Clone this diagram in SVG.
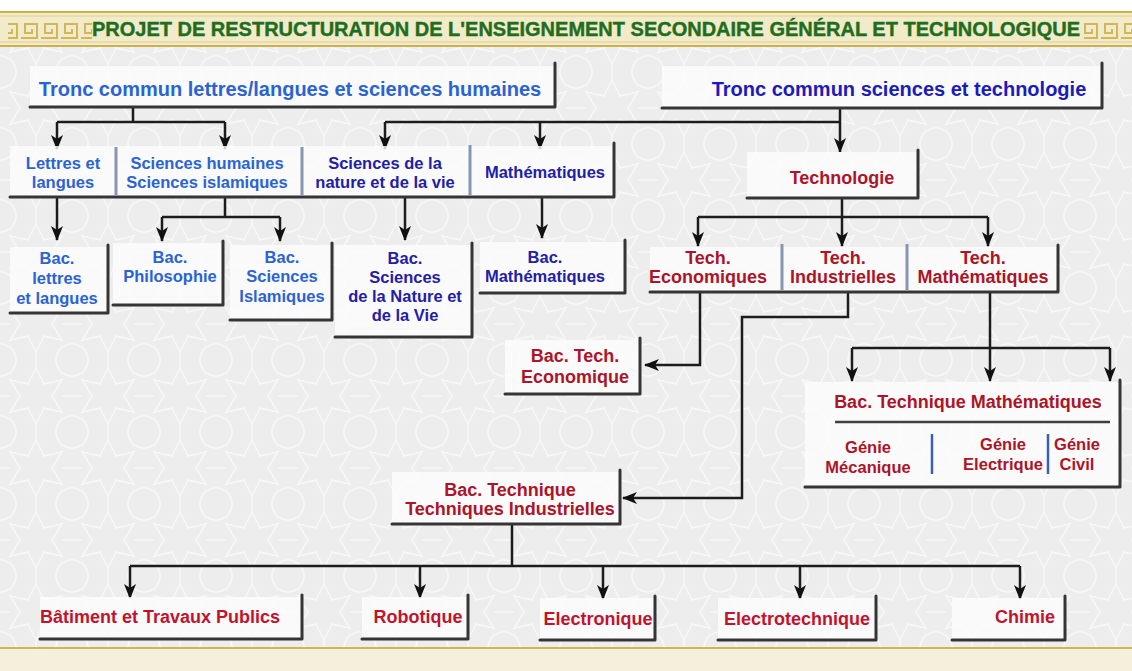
<svg xmlns="http://www.w3.org/2000/svg" width="1132" height="671" viewBox="0 0 1132 671">
<defs>
<style>
.t{font-family:"Liberation Sans",Arial,sans-serif;font-weight:bold;text-anchor:middle}
.big{font-size:20px}
.mid{font-size:18px}
.sm{font-size:16.5px}
.lb{fill:#2a63d4}
.nv{fill:#1f20a8}
.rd{fill:#ad1428}
.rb{fill:#c4122c}
.box{fill:#fcfcfc;fill-opacity:0.8}
.bd{fill:none;stroke:#353535;stroke-width:3;stroke-linejoin:round;stroke-linecap:round}
.sep{stroke:#8797b3;stroke-width:3}
.sepb{stroke:#3d5fb0;stroke-width:2.5}
.c{fill:none;stroke:#1c1c1c;stroke-width:2.5}
.a{fill:none;stroke:#1c1c1c;stroke-width:2.5;marker-end:url(#arr)}
</style>
<marker id="arr" markerUnits="userSpaceOnUse" markerWidth="16" markerHeight="14" refX="14" refY="7" orient="auto">
<path d="M0,1 L15,7 L0,13 L4,7 Z" fill="#111"/>
</marker>
<pattern id="bgp" width="72" height="72" patternUnits="userSpaceOnUse">
<rect width="72" height="72" fill="#ededed"/>
<g fill="none" stroke="#f9f9f9" stroke-width="1.6" opacity="0.85">
<polygon points="36,8 44,24 62,20 52,36 62,52 44,48 36,64 28,48 10,52 20,36 10,20 28,24"/>
<circle cx="0" cy="0" r="16"/><circle cx="72" cy="0" r="16"/><circle cx="0" cy="72" r="16"/><circle cx="72" cy="72" r="16"/>
<path d="M0,36 L10,36 M62,36 L72,36 M36,0 L36,8 M36,64 L36,72"/>
</g>
</pattern>
<pattern id="key" width="20" height="20" patternUnits="userSpaceOnUse">
<path d="M1,18 H17 V4 H5 V13 H12 V9" fill="none" stroke="#d2b65c" stroke-width="2"/>
</pattern>
</defs>

<rect width="1132" height="671" fill="#ffffff"/>
<rect x="0" y="47" width="1132" height="601" fill="url(#bgp)"/>

<g id="header">
<rect x="0" y="11" width="1132" height="36" fill="#f2ebc9"/>
<line x1="0" y1="12" x2="1132" y2="12" stroke="#cdb04e" stroke-width="2"/>
<line x1="0" y1="16" x2="1132" y2="16" stroke="#e2cf8a" stroke-width="1"/>
<line x1="0" y1="42" x2="1132" y2="42" stroke="#e2cf8a" stroke-width="1"/>
<line x1="0" y1="46" x2="1132" y2="46" stroke="#cdb04e" stroke-width="2"/>
<rect x="8" y="19" width="84" height="21" fill="url(#key)"/>
<rect x="1084" y="19" width="48" height="21" fill="url(#key)"/>
<text x="92" y="36" font-family="'Liberation Sans',Arial,sans-serif" font-weight="bold" font-size="19.5" fill="#1f6e20" stroke="#1f6e20" stroke-width="0.4" textLength="988" lengthAdjust="spacingAndGlyphs">PROJET DE RESTRUCTURATION DE L'ENSEIGNEMENT SECONDAIRE GÉNÉRAL ET TECHNOLOGIQUE</text>
</g>

<g id="footer">
<rect x="0" y="648" width="1132" height="23" fill="#f4f0dc"/>
<line x1="0" y1="648" x2="1132" y2="648" stroke="#d1b552" stroke-width="2"/>
</g>

<g id="connectors">
<path class="c" d="M133,107 V122 M57,122 H225"/>
<path class="a" d="M57,122 V149"/>
<path class="a" d="M225,122 V149"/>
<path class="c" d="M385,122 H840"/>
<path class="a" d="M385,122 V149"/>
<path class="a" d="M540,122 V149"/>
<path class="a" d="M840,108 V152"/>
<path class="a" d="M57,197 V240"/>
<path class="c" d="M225,197 V217 M162,217 H280"/>
<path class="a" d="M162,217 V241"/>
<path class="a" d="M280,217 V241"/>
<path class="a" d="M405,197 V240"/>
<path class="a" d="M542,197 V238"/>
<path class="c" d="M842,198 V217 M698,217 H988"/>
<path class="a" d="M698,217 V246"/>
<path class="a" d="M842,217 V246"/>
<path class="a" d="M988,217 V246"/>
<path class="a" d="M700,292 V365 H645"/>
<path class="a" d="M848,292 V317 H742 V498 H623"/>
<path class="c" d="M852,348 H1110"/>
<path class="a" d="M990,292 V381"/>
<path class="a" d="M852,348 V381"/>
<path class="a" d="M1110,348 V381"/>
<path class="c" d="M512,524 V566 M130,566 H1020"/>
<path class="a" d="M130,566 V598"/>
<path class="a" d="M420,566 V598"/>
<path class="a" d="M603,566 V599"/>
<path class="a" d="M800,566 V599"/>
<path class="a" d="M1020,566 V599"/>
</g>

<g id="n-tronc-lettres">
<rect class="box" x="30" y="66" width="525" height="41"/>
<path class="bd" d="M30,107 H555 V63"/>
<text class="t big lb" x="290" y="96">Tronc commun lettres/langues et sciences humaines</text>
</g>

<g id="n-tronc-sciences">
<rect class="box" x="662" y="66" width="440" height="42"/>
<path class="bd" d="M662,108 H1102 V63"/>
<text class="t big nv" x="899" y="96" style="fill:#1b1bbd">Tronc commun sciences et technologie</text>
</g>

<g id="n-tronc-options">
<rect class="box" x="10" y="146" width="604" height="51"/>
<path class="bd" d="M10,197 H614 V143"/>
<line class="sep" x1="116" y1="147" x2="116" y2="196"/>
<line class="sep" x1="302" y1="147" x2="302" y2="196"/>
<line class="sep" x1="470" y1="145" x2="470" y2="196"/>
</g>
<g id="n-lettres-langues">
<text class="t sm lb" x="63" y="169">Lettres et</text>
<text class="t sm lb" x="63" y="188">langues</text>
</g>
<g id="n-sciences-humaines">
<text class="t sm lb" x="207" y="169">Sciences humaines</text>
<text class="t sm lb" x="207" y="188">Sciences islamiques</text>
</g>
<g id="n-snv">
<text class="t sm nv" x="385" y="169">Sciences de la</text>
<text class="t sm nv" x="385" y="188">nature et de la vie</text>
</g>
<g id="n-math">
<text class="t sm nv" x="545" y="178">Mathématiques</text>
</g>

<g id="n-bac-lettres">
<rect class="box" x="10" y="247" width="98" height="66"/>
<path class="bd" d="M10,313 H108 V245"/>
<text class="t sm lb" x="57" y="264">Bac.</text>
<text class="t sm lb" x="57" y="284">lettres</text>
<text class="t sm lb" x="57" y="304">et langues</text>
</g>

<g id="n-bac-philo">
<rect class="box" x="113" y="243" width="110" height="62"/>
<path class="bd" d="M113,305 H223 V241"/>
<text class="t sm lb" x="170" y="263">Bac.</text>
<text class="t sm lb" x="170" y="282">Philosophie</text>
</g>

<g id="n-bac-islam">
<rect class="box" x="230" y="245" width="102" height="75"/>
<path class="bd" d="M230,320 H332 V243"/>
<text class="t sm lb" x="282" y="263">Bac.</text>
<text class="t sm lb" x="282" y="282">Sciences</text>
<text class="t sm lb" x="282" y="302">Islamiques</text>
</g>

<g id="n-bac-snv">
<rect class="box" x="335" y="245" width="137" height="92"/>
<path class="bd" d="M335,337 H472 V243"/>
<text class="t sm nv" x="405" y="264">Bac.</text>
<text class="t sm nv" x="405" y="283">Sciences</text>
<text class="t sm nv" x="405" y="302">de la Nature et</text>
<text class="t sm nv" x="405" y="321">de la Vie</text>
</g>

<g id="n-bac-math">
<rect class="box" x="480" y="242" width="145" height="51"/>
<path class="bd" d="M480,293 H625 V240"/>
<text class="t sm nv" x="545" y="263">Bac.</text>
<text class="t sm nv" x="545" y="282">Mathématiques</text>
</g>

<g id="n-technologie">
<rect class="box" x="747" y="152" width="171" height="46"/>
<path class="bd" d="M747,198 H918 V150"/>
<text class="t mid rd" x="842" y="184">Technologie</text>
</g>

<g id="n-tech-row">
<rect class="box" x="650" y="247" width="408" height="45"/>
<path class="bd" d="M650,292 H1058 V245"/>
<line class="sep" x1="782" y1="244" x2="782" y2="290"/>
<line class="sep" x1="907" y1="244" x2="907" y2="290"/>
</g>
<g id="n-tech-eco">
<text class="t mid rd" x="708" y="264">Tech.</text>
<text class="t mid rd" x="708" y="283">Economiques</text>
</g>
<g id="n-tech-ind">
<text class="t mid rd" x="843" y="264">Tech.</text>
<text class="t mid rd" x="843" y="283">Industrielles</text>
</g>
<g id="n-tech-math">
<text class="t mid rd" x="983" y="264">Tech.</text>
<text class="t mid rd" x="983" y="283">Mathématiques</text>
</g>

<g id="n-bac-tech-eco">
<rect class="box" x="505" y="340" width="135" height="54"/>
<path class="bd" d="M505,394 H640 V338"/>
<text class="t mid rd" x="575" y="362">Bac. Tech.</text>
<text class="t mid rd" x="575" y="383">Economique</text>
</g>

<g id="n-bac-tech-math">
<rect class="box" x="805" y="382" width="315" height="105"/>
<path class="bd" d="M805,487 H1120 V380"/>
<text class="t mid rd" x="968" y="408">Bac. Technique Mathématiques</text>
<line x1="835" y1="422" x2="1110" y2="422" stroke="#404040" stroke-width="2.5"/>
<line class="sepb" x1="932" y1="434" x2="932" y2="474"/>
<line class="sepb" x1="1048" y1="434" x2="1048" y2="474"/>
<text class="t sm rd" x="868" y="453">Génie</text>
<text class="t sm rd" x="868" y="473">Mécanique</text>
<text class="t sm rd" x="1003" y="450">Génie</text>
<text class="t sm rd" x="1003" y="470">Electrique</text>
<text class="t sm rd" x="1077" y="450">Génie</text>
<text class="t sm rd" x="1077" y="470">Civil</text>
</g>

<g id="n-bac-tech-ind">
<rect class="box" x="392" y="472" width="228" height="52"/>
<path class="bd" d="M392,524 H620 V470"/>
<text class="t mid rd" x="510" y="496">Bac. Technique</text>
<text class="t mid rd" x="510" y="515">Techniques Industrielles</text>
</g>

<g id="n-btp">
<rect class="box" x="40" y="597" width="262" height="42"/>
<path class="bd" d="M40,639 H302 V595"/>
<text class="t mid rb" x="160" y="623">Bâtiment et Travaux Publics</text>
</g>
<g id="n-robotique">
<rect class="box" x="362" y="597" width="106" height="42"/>
<path class="bd" d="M362,639 H468 V595"/>
<text class="t mid rb" x="418" y="623">Robotique</text>
</g>
<g id="n-electronique">
<rect class="box" x="540" y="598" width="115" height="42"/>
<path class="bd" d="M540,640 H655 V596"/>
<text class="t mid rb" x="598" y="625">Electronique</text>
</g>
<g id="n-electrotechnique">
<rect class="box" x="718" y="598" width="158" height="42"/>
<path class="bd" d="M718,640 H876 V596"/>
<text class="t mid rb" x="797" y="625">Electrotechnique</text>
</g>
<g id="n-chimie">
<rect class="box" x="952" y="598" width="113" height="42"/>
<path class="bd" d="M952,640 H1065 V596"/>
<text class="t mid rb" x="1025" y="623">Chimie</text>
</g>
</svg>
